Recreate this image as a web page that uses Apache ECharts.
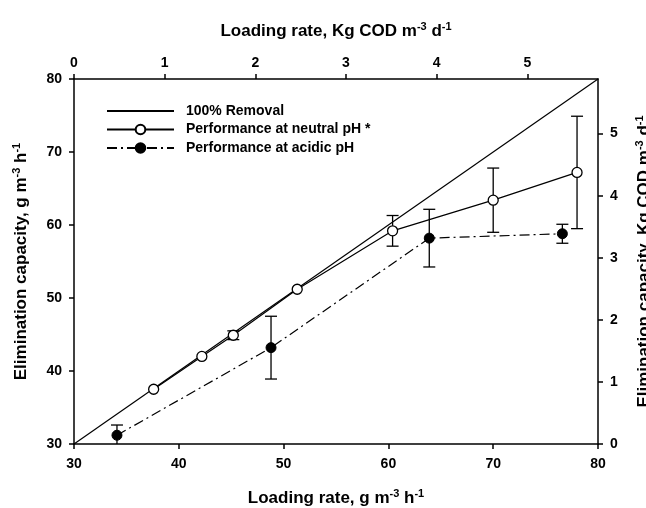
<!DOCTYPE html>
<html>
<head>
<meta charset="utf-8">
<script src="https://cdn.jsdelivr.net/npm/echarts@6/dist/echarts.min.js"></script>
<style>html,body{margin:0;padding:0;background:#fff;overflow:hidden}#c{width:646px;height:508px}</style>
</head>
<body>
<div id="c"></div>
<script>
// ---- data ----
var removalX = [30, 80];
var removalY = [30, 80];
var neutralX = [37.6, 42.2, 45.2, 51.3, 60.4, 70.0, 78.0];
var neutralY = [37.5, 42.0, 44.9, 51.2, 59.2, 63.4, 67.2];
var neutralErr = [0, 0, 0.6, 0, 2.1, 4.4, 7.7];
var acidX = [34.1, 48.8, 63.9, 76.6];
var acidY = [31.2, 43.2, 58.2, 58.8];
var acidErr = [1.4, 4.3, 3.95, 1.3];
var bottomTicks = [30, 40, 50, 60, 70, 80];
var leftTicks = [30, 40, 50, 60, 70, 80];
var topTicks = [0, 1, 2, 3, 4, 5];
var rightTicks = [0, 1, 2, 3, 4, 5];
var topMax = 5.78;
var rightMax = 5.88;

function pairs(xs, ys) { return xs.map(function (x, i) { return [x, ys[i]]; }); }
function errData(xs, ys, es) {
  var out = [];
  xs.forEach(function (x, i) { if (es[i] > 0) out.push([x, ys[i] - es[i], ys[i] + es[i]]); });
  return out;
}

var FONT = '"Liberation Sans", Arial, sans-serif';
var supRich = {
  t: { fontFamily: FONT, fontWeight: 'bold', fontSize: 17, color: '#000' },
  s: { fontFamily: FONT, fontWeight: 'bold', fontSize: 11, color: '#000', verticalAlign: 'top', padding: [0, 0, 9, 0] }
};
function axisCommon() {
  return {
    axisLine: { show: true, onZero: false, lineStyle: { color: '#000', width: 1.5 } },
    axisTick: { show: true, inside: false, length: 5, lineStyle: { color: '#000', width: 1.5 } },
    axisLabel: { color: '#000', fontFamily: FONT, fontWeight: 'bold', fontSize: 14 },
    splitLine: { show: false },
    nameLocation: 'middle',
    nameTextStyle: { rich: supRich }
  };
}

var errRender = function (params, api) {
  var x = api.value(0);
  var lo = api.coord([x, api.value(1)]);
  var hi = api.coord([x, api.value(2)]);
  var w = 6;
  var st = { stroke: '#000', lineWidth: 1.3 };
  return {
    type: 'group',
    children: [
      { type: 'line', shape: { x1: lo[0], y1: lo[1], x2: hi[0], y2: hi[1] }, style: st },
      { type: 'line', shape: { x1: lo[0] - w, y1: lo[1], x2: lo[0] + w, y2: lo[1] }, style: st },
      { type: 'line', shape: { x1: hi[0] - w, y1: hi[1], x2: hi[0] + w, y2: hi[1] }, style: st }
    ]
  };
};

var chart = echarts.init(document.getElementById('c'), null, { renderer: 'canvas', width: 646, height: 508 });
var bx = axisCommon(), tx = axisCommon(), ly = axisCommon(), ry = axisCommon();

Object.assign(bx, {
  type: 'value', position: 'bottom', min: 30, max: 80, interval: 10,
  name: '{t|Loading rate, g m}{s|-3}{t| h}{s|-1}', nameGap: 44
});
bx.axisLabel = Object.assign({}, bx.axisLabel, { margin: 13, customValues: bottomTicks });
bx.axisTick = Object.assign({}, bx.axisTick, { customValues: bottomTicks });

Object.assign(tx, {
  type: 'value', position: 'top', min: 0, max: topMax, interval: 1,
  name: '{t|Loading rate, Kg COD m}{s|-3}{t| d}{s|-1}', nameGap: 38
});
tx.axisLabel = Object.assign({}, tx.axisLabel, { margin: 9, customValues: topTicks });
tx.axisTick = Object.assign({}, tx.axisTick, { customValues: topTicks });

Object.assign(ly, {
  type: 'value', position: 'left', min: 30, max: 80, interval: 10,
  name: '{t|Elimination capacity, g m}{s|-3}{t| h}{s|-1}', nameGap: 43, nameRotate: 90
});
ly.axisLabel = Object.assign({}, ly.axisLabel, { margin: 12, customValues: leftTicks });
ly.axisTick = Object.assign({}, ly.axisTick, { customValues: leftTicks });

Object.assign(ry, {
  type: 'value', position: 'right', min: 0, max: rightMax, interval: 1,
  name: '{t|Elimination capacity, Kg COD m}{s|-3}{t| d}{s|-1}', nameGap: 36, nameRotate: 90
});
ry.axisLabel = Object.assign({}, ry.axisLabel, { margin: 12, customValues: rightTicks });
ry.axisTick = Object.assign({}, ry.axisTick, { customValues: rightTicks });

chart.setOption({
  animation: false,
  backgroundColor: '#fff',
  grid: { left: 74, right: 48, top: 79, bottom: 64, containLabel: false, outerBoundsMode: 'none' },
  xAxis: [bx, tx],
  yAxis: [ly, ry],
  legend: {
    data: [
      { name: '100% Removal', itemStyle: { color: 'rgba(0,0,0,0)', borderWidth: 0, borderColor: 'rgba(0,0,0,0)' } },
      'Performance at neutral pH *',
      'Performance at acidic pH'
    ],
    orient: 'vertical', left: 101, top: 98,
    itemWidth: 67, itemHeight: 12, itemGap: 2.5,
    textStyle: { color: '#000', fontFamily: FONT, fontWeight: 'bold', fontSize: 14, lineHeight: 16, padding: [0, 0, 0, 7] }
  },
  series: [
    {
      name: '100% Removal', type: 'line', xAxisIndex: 0, yAxisIndex: 0,
      data: pairs(removalX, removalY), symbol: 'none',
      lineStyle: { color: '#000', width: 1.2 }, itemStyle: { color: '#000' }, z: 2
    },
    {
      name: 'errN', type: 'custom', xAxisIndex: 0, yAxisIndex: 0, clip: true,
      data: errData(neutralX, neutralY, neutralErr), renderItem: errRender, z: 3
    },
    {
      name: 'errA', type: 'custom', xAxisIndex: 0, yAxisIndex: 0, clip: true,
      data: errData(acidX, acidY, acidErr), renderItem: errRender, z: 3
    },
    {
      name: 'Performance at neutral pH *', type: 'line', xAxisIndex: 0, yAxisIndex: 0,
      data: pairs(neutralX, neutralY), symbol: 'circle', symbolSize: 10, showSymbol: true,
      lineStyle: { color: '#000', width: 1.2 },
      itemStyle: { color: '#fff', borderColor: '#000', borderWidth: 1.3 }, z: 4
    },
    {
      name: 'Performance at acidic pH', type: 'line', xAxisIndex: 0, yAxisIndex: 0,
      data: pairs(acidX, acidY), symbol: 'circle', symbolSize: 10, showSymbol: true,
      lineStyle: { color: '#000', width: 1.2, type: [10, 4, 2, 4] },
      itemStyle: { color: '#000', borderColor: '#000', borderWidth: 1 }, z: 4
    }
  ]
});
</script>
</body>
</html>
